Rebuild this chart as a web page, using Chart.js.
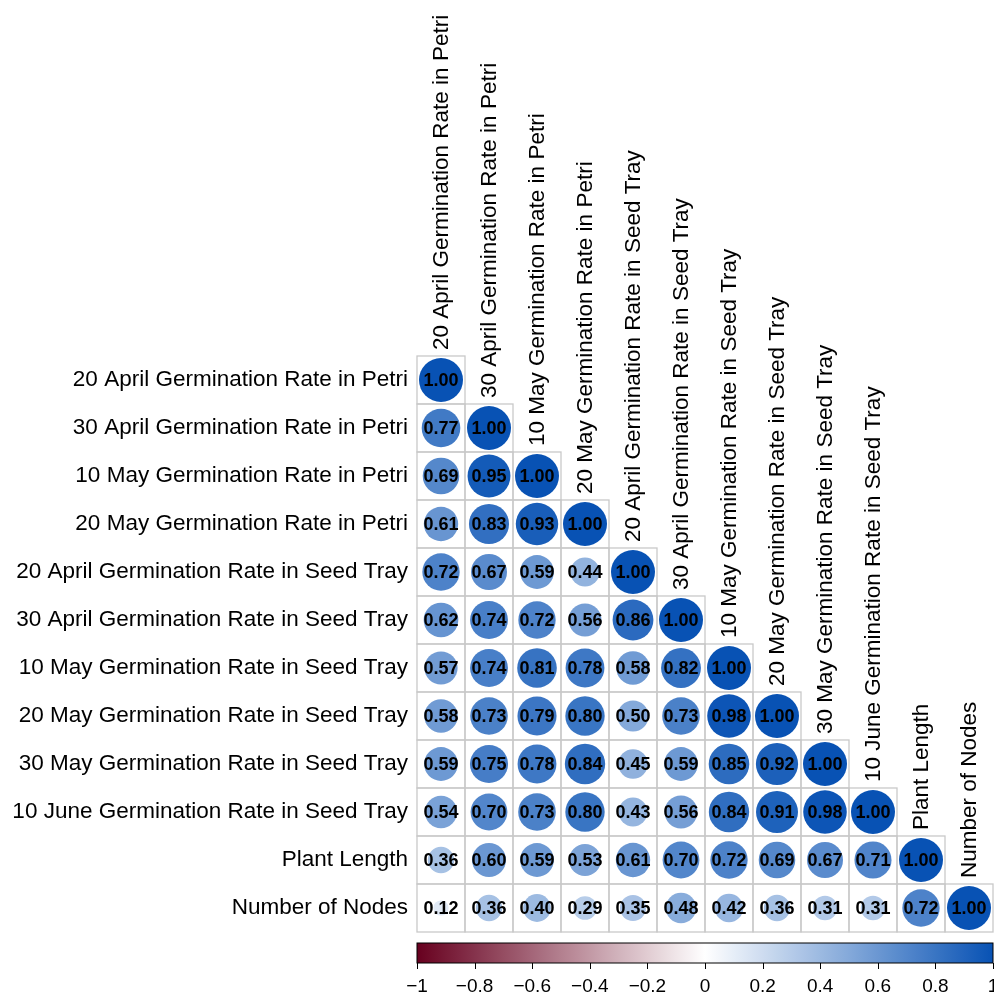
<!DOCTYPE html>
<html>
<head>
<meta charset="utf-8">
<script src="https://cdn.jsdelivr.net/npm/chart.js@4.4.0/dist/chart.umd.min.js"></script>
<style>
  html, body { margin: 0; padding: 0; background: #ffffff; }
  #wrap { width: 994px; height: 994px; }
</style>
</head>
<body>
<div id="wrap"><canvas id="corr" width="994" height="994"></canvas></div>
<script>
// Traits compared in the correlation matrix (row/column order)
const traits = [
  "20 April Germination Rate in Petri",
  "30 April Germination Rate in Petri",
  "10 May Germination Rate in Petri",
  "20 May Germination Rate in Petri",
  "20 April Germination Rate in Seed Tray",
  "30 April Germination Rate in Seed Tray",
  "10 May Germination Rate in Seed Tray",
  "20 May Germination Rate in Seed Tray",
  "30 May Germination Rate in Seed Tray",
  "10 June Germination Rate in Seed Tray",
  "Plant Length",
  "Number of Nodes"
];

// Lower-triangle Pearson coefficients, one array per row
const row01 = [1.00];
const row02 = [0.77, 1.00];
const row03 = [0.69, 0.95, 1.00];
const row04 = [0.61, 0.83, 0.93, 1.00];
const row05 = [0.72, 0.67, 0.59, 0.44, 1.00];
const row06 = [0.62, 0.74, 0.72, 0.56, 0.86, 1.00];
const row07 = [0.57, 0.74, 0.81, 0.78, 0.58, 0.82, 1.00];
const row08 = [0.58, 0.73, 0.79, 0.80, 0.50, 0.73, 0.98, 1.00];
const row09 = [0.59, 0.75, 0.78, 0.84, 0.45, 0.59, 0.85, 0.92, 1.00];
const row10 = [0.54, 0.70, 0.73, 0.80, 0.43, 0.56, 0.84, 0.91, 0.98, 1.00];
const row11 = [0.36, 0.60, 0.59, 0.53, 0.61, 0.70, 0.72, 0.69, 0.67, 0.71, 1.00];
const row12 = [0.12, 0.36, 0.40, 0.29, 0.35, 0.48, 0.42, 0.36, 0.31, 0.31, 0.72, 1.00];
const corrRows = [row01, row02, row03, row04, row05, row06, row07, row08, row09, row10, row11, row12];

// Colour legend ticks
const legendTicks = [-1, -0.8, -0.6, -0.4, -0.2, 0, 0.2, 0.4, 0.6, 0.8, 1];

const FONT = "'Liberation Sans', Arial, Helvetica, sans-serif";
const NEG_END = [103, 0, 31];
const POS_END = [8, 82, 180];

function corrColor(v) {
  const end = v >= 0 ? POS_END : NEG_END;
  const t = Math.min(1, Math.abs(v));
  const c = end.map(e => Math.round(255 + (e - 255) * t));
  return `rgb(${c[0]},${c[1]},${c[2]})`;
}

// Build the point list from the rows
const points = [];
corrRows.forEach((vals, r) => {
  vals.forEach((v, c) => points.push({ x: c, y: r, v: v }));
});

function cellSize(chart) {
  const xs = chart.scales.x;
  return Math.abs(xs.getPixelForValue(1) - xs.getPixelForValue(0));
}

function circleRadius(ctx) {
  const raw = ctx.raw;
  if (!raw || !ctx.chart.chartArea) return 0;
  const s = cellSize(ctx.chart);
  return Math.sqrt(Math.abs(raw.v)) * (s / 2 - 2);
}

const matrixPlugin = {
  id: 'matrixDecor',
  beforeDatasetsDraw(chart) {
    const { ctx, scales: { x, y } } = chart;
    const s = cellSize(chart);
    ctx.save();
    ctx.strokeStyle = '#c9c9c9';
    ctx.lineWidth = 1.3;
    corrRows.forEach((vals, r) => {
      vals.forEach((v, c) => {
        const cx = x.getPixelForValue(c), cy = y.getPixelForValue(r);
        ctx.strokeRect(cx - s / 2, cy - s / 2, s, s);
      });
    });
    ctx.restore();
  },
  afterDatasetsDraw(chart) {
    const { ctx, scales: { x, y } } = chart;
    const s = cellSize(chart);
    const meta = chart.getDatasetMeta(0);
    ctx.save();
    // coefficient text inside each circle
    ctx.fillStyle = '#000000';
    ctx.font = `bold 18px ${FONT}`;
    ctx.textAlign = 'center';
    ctx.textBaseline = 'middle';
    meta.data.forEach((el, i) => {
      ctx.fillText(points[i].v.toFixed(2), el.x, el.y + 1);
    });
    // column headers, rotated, sitting on top of each diagonal cell
    ctx.font = `22.5px ${FONT}`;
    ctx.textAlign = 'left';
    ctx.textBaseline = 'middle';
    traits.forEach((name, c) => {
      const px = x.getPixelForValue(c);
      const py = y.getPixelForValue(c) - s / 2 - 6;
      ctx.save();
      ctx.translate(px, py);
      ctx.rotate(-Math.PI / 2);
      ctx.fillText(name, 0, 1);
      ctx.restore();
    });
    // colour legend bar along the legend scale
    const cb = chart.scales.cb;
    const x0 = cb.getPixelForValue(-1), x1 = cb.getPixelForValue(1);
    const top = cb.top + 11, h = 20;
    const grad = ctx.createLinearGradient(x0, 0, x1, 0);
    for (let k = 0; k <= 40; k++) {
      const v = -1 + k * 0.05;
      grad.addColorStop(k / 40, corrColor(v));
    }
    ctx.fillStyle = grad;
    ctx.fillRect(x0, top, x1 - x0, h);
    ctx.strokeStyle = '#000000';
    ctx.lineWidth = 1;
    ctx.strokeRect(x0, top, x1 - x0, h);
    ctx.beginPath();
    legendTicks.forEach(t => {
      const px = Math.round(cb.getPixelForValue(t)) + 0.5;
      ctx.moveTo(px, top + h);
      ctx.lineTo(px, top + h + 6);
    });
    ctx.stroke();
    ctx.restore();
  }
};

new Chart(document.getElementById('corr'), {
  type: 'scatter',
  data: {
    datasets: [{
      data: points,
      pointRadius: circleRadius,
      pointHoverRadius: circleRadius,
      backgroundColor: (ctx) => ctx.raw ? corrColor(ctx.raw.v) : '#fff',
      borderWidth: 0,
      pointBorderWidth: 0
    }]
  },
  options: {
    responsive: false,
    animation: false,
    devicePixelRatio: 1,
    events: [],
    layout: { padding: { top: 356, right: 1, left: 0, bottom: 0 } },
    plugins: { legend: { display: false }, tooltip: { enabled: false } },
    scales: {
      x: {
        type: 'linear', min: -0.5, max: 11.5, display: false
      },
      y: {
        type: 'linear', min: -0.5, max: 11.5, reverse: true,
        position: 'left',
        afterBuildTicks(scale) {
          scale.ticks = traits.map((_, i) => ({ value: i }));
        },
        ticks: {
          autoSkip: false,
          padding: 9,
          color: '#000000',
          font: { family: FONT, size: 22.5 },
          callback: (v) => traits[v]
        },
        grid: { display: false, drawTicks: false },
        border: { display: false },
        afterFit(scale) {
          scale.width = 417;
          scale.paddingTop = 0;
          scale.paddingBottom = 0;
        }
      },
      cb: {
        type: 'linear', position: 'bottom', axis: 'x', min: -1, max: 1,
        afterBuildTicks(scale) {
          scale.ticks = legendTicks.map(v => ({ value: v }));
        },
        ticks: {
          autoSkip: false,
          maxRotation: 0,
          padding: 43,
          color: '#000000',
          font: { family: FONT, size: 19 },
          callback: (v) => (v < 0 ? '\u2212' + String(Math.abs(v)) : String(v))
        },
        grid: { display: false, drawTicks: false },
        border: { display: false },
        afterFit(scale) {
          scale.height = 62;
          scale.paddingLeft = 0;
          scale.paddingRight = 0;
        }
      }
    }
  },
  plugins: [matrixPlugin]
});
</script>
</body>
</html>
